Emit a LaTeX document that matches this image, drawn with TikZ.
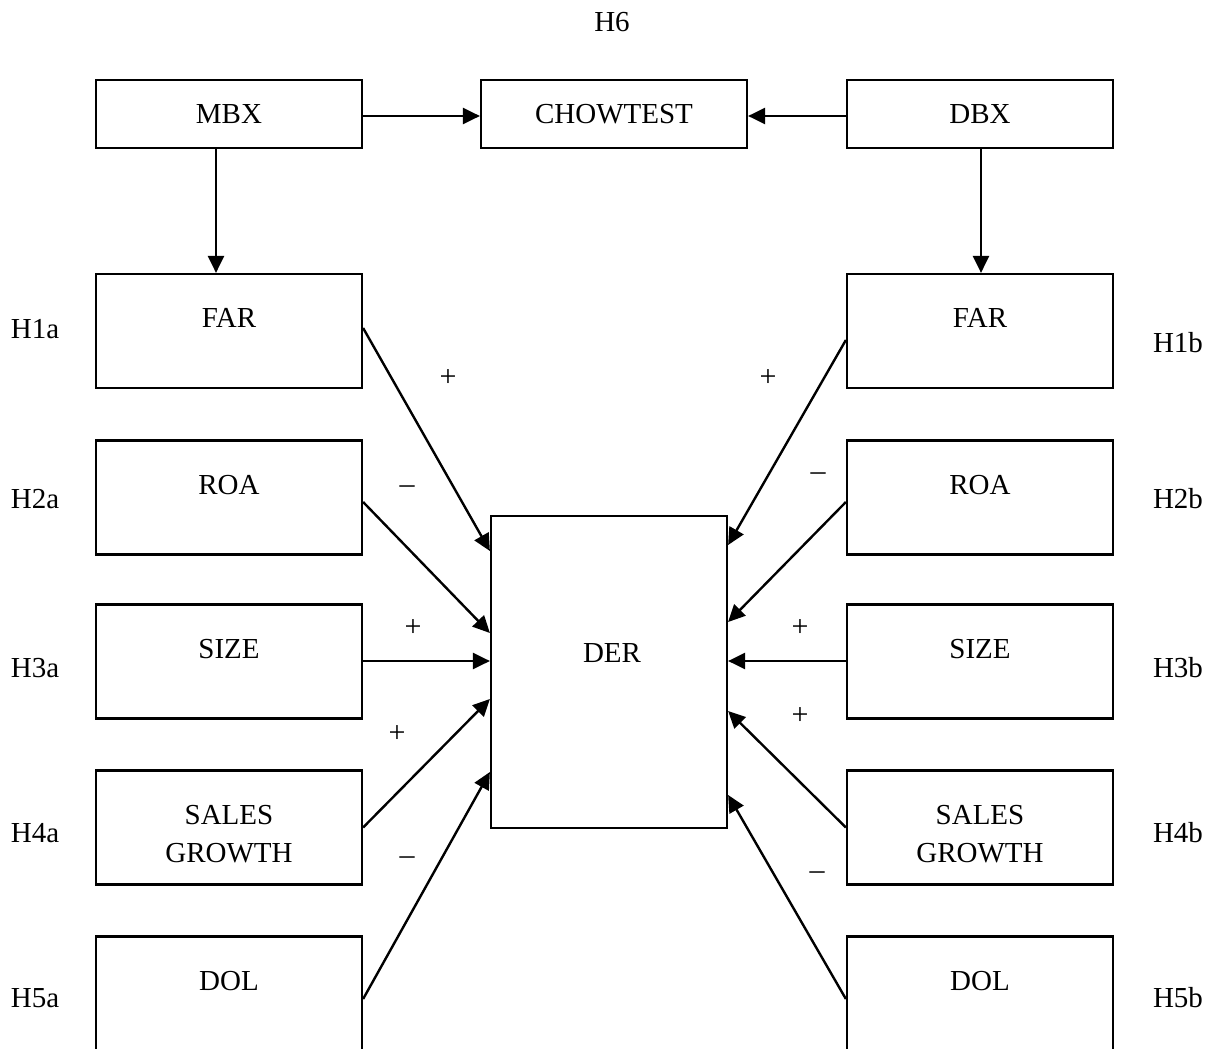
\documentclass[tikz,border=0pt]{standalone}
\usepackage{fontspec}
\setmainfont{Liberation Serif}
\usetikzlibrary{arrows.meta}
\begin{document}
\begin{tikzpicture}[x=1pt,y=-1pt,
  every node/.style={font=\fontsize{29}{35}\selectfont, inner sep=0pt},
  box/.style={draw, line width=2.2pt, minimum width=266pt, minimum height=#1},
  box/.default=114pt,
  conn/.style={line width=2.4pt, -{Triangle[length=17pt,width=16pt]}},
  sgn/.style={font=\fontsize{30}{36}\selectfont}]
\useasboundingbox (0,0) rectangle (1210,1049);
\clip (0,0) rectangle (1210,1049);
% top row
\node at (612,22) (h6) {H6};
\node[box=68pt] (mbx) at (229,114) {};
\node at (229,114) {MBX};
\node[box=68pt] (chow) at (614,114) {};
\node at (614,114) {CHOWTEST};
\node[box=68pt] (dbx) at (980,114) {};
\node at (980,114) {DBX};
% left boxes
\node[box] (farL) at (229,331) {};
\node at (229,318) {FAR};
\node[box] (roaL) at (229,497.5) {};
\node at (229,485) {ROA};
\node[box] (sizeL) at (229,661.5) {};
\node at (229,649) {SIZE};
\node[box] (salesL) at (229,827.5) {};
\node[align=center, font=\fontsize{29}{38}\selectfont] at (229,834) {SALES\\GROWTH};
\node[box] (dolL) at (229,993.5) {};
\node at (229,981) {DOL};
% right boxes
\node[box] (farR) at (980,331) {};
\node at (980,318) {FAR};
\node[box] (roaR) at (980,497.5) {};
\node at (980,485) {ROA};
\node[box] (sizeR) at (980,661.5) {};
\node at (980,649) {SIZE};
\node[box] (salesR) at (980,827.5) {};
\node[align=center, font=\fontsize{29}{38}\selectfont] at (980,834) {SALES\\GROWTH};
\node[box] (dolR) at (980,993.5) {};
\node at (980,981) {DOL};
% DER
\node[draw, line width=2.2pt, minimum width=236pt, minimum height=312pt] (der) at (609,672) {};
\node at (612,653) {DER};
% hypothesis labels
\node at (35,329) {H1a};
\node at (35,499) {H2a};
\node at (35,668) {H3a};
\node at (35,833) {H4a};
\node at (35,998) {H5a};
\node at (1178,343) {H1b};
\node at (1178,499) {H2b};
\node at (1178,668) {H3b};
\node at (1178,833) {H4b};
\node at (1178,998) {H5b};
% top connectors
\draw[conn] ([yshift=-2pt]mbx.east) -- ([yshift=-2pt]chow.west);
\draw[conn] ([yshift=-2pt]dbx.west) -- ([yshift=-2pt]chow.east);
\draw[conn] ([xshift=-13pt]mbx.south) -- ([xshift=-13pt]farL.north);
\draw[conn] ([xshift=1pt]dbx.south) -- ([xshift=1pt]farR.north);
% left connectors
\draw[conn] ([yshift=3pt]farL.east) -- ([yshift=121pt]der.west);
\draw[conn] ([yshift=-4.5pt]roaL.east) -- ([yshift=39pt]der.west);
\draw[conn] ([yshift=0.5pt]sizeL.east) -- ([yshift=11pt]der.west);
\draw[conn] (salesL.east) -- ([yshift=-27pt]der.west);
\draw[conn] ([yshift=-5.5pt]dolL.east) -- ([yshift=-100pt]der.west);
% right connectors
\draw[conn] ([yshift=-9pt]farR.west) -- ([yshift=127pt]der.east);
\draw[conn] ([yshift=-4.5pt]roaR.west) -- ([yshift=50pt]der.east);
\draw[conn] ([yshift=0.5pt]sizeR.west) -- ([yshift=11pt]der.east);
\draw[conn] (salesR.west) -- ([yshift=-39pt]der.east);
\draw[conn] ([yshift=-5.5pt]dolR.west) -- ([yshift=-123pt]der.east);
% signs
\node[sgn] at (448,378) {+};
\node[sgn] at (768,378) {+};
\node[sgn] at (407,490) {--};
\node[sgn] at (818,477) {--};
\node[sgn] at (413,628) {+};
\node[sgn] at (800,628) {+};
\node[sgn] at (397,734) {+};
\node[sgn] at (800,716) {+};
\node[sgn] at (407,861) {--};
\node[sgn] at (817,876) {--};
\end{tikzpicture}
\end{document}
